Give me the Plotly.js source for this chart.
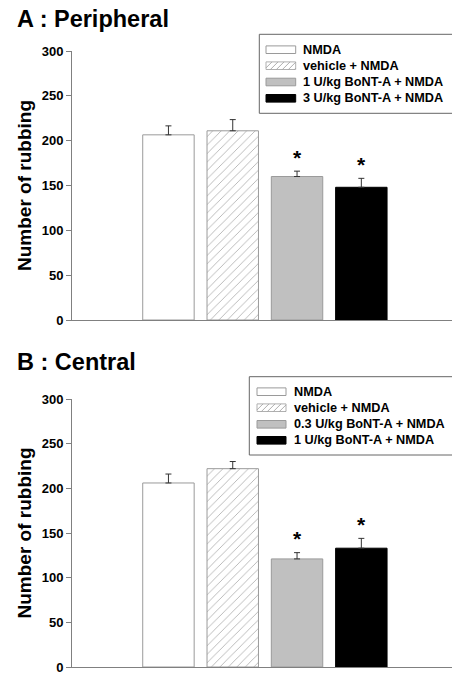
<!DOCTYPE html>
<html>
<head>
<meta charset="utf-8">
<script src="https://cdn.plot.ly/plotly-3.0.1.min.js"></script>
<style>html,body{margin:0;padding:0;background:#fff;}#chart{width:452px;height:675px;}</style>
</head>
<body>
<div id="chart"></div>
<script>
// ---- data ----
const positions = [0, 1, 2, 3];
const groupsA = ['NMDA', 'vehicle + NMDA', '1 U/kg BoNT-A + NMDA', '3 U/kg BoNT-A + NMDA'];
const meansA = [206.5, 211, 160, 148];
const semA = [10, 12.5, 6, 10];
const sigA = [false, false, true, true];
const groupsB = ['NMDA', 'vehicle + NMDA', '0.3 U/kg BoNT-A + NMDA', '1 U/kg BoNT-A + NMDA'];
const meansB = [206, 222, 121, 133];
const semB = [10, 8, 7, 11];
const sigB = [false, false, true, true];
const noLowerErr = [0, 0, 0, 0];
const yTicks = [0, 50, 100, 150, 200, 250, 300];
const panelTitles = ['A : Peripheral', 'B : Central'];

// ---- styles ----
const W = 452, H = 675, L = 72;
const px = x => (x - L) / (W - L);
const py = y => 1 - y / H;
const FONT = 'Liberation Sans, Arial, sans-serif';
const fills = ['#ffffff', '#ffffff', '#c0c0c0', '#000000'];
const edges = ['#9a9a9a', '#9a9a9a', '#9a9a9a', '#000000'];
const patterns = ['', '/', '', ''];

function barTrace(means, sem, xa, ya) {
  return {
    type: 'bar', x: positions, y: means, width: 0.8, xaxis: xa, yaxis: ya,
    marker: {
      color: fills,
      line: {color: edges, width: 1},
      pattern: {shape: patterns, fgcolor: '#8a8a8a', size: 6, solidity: 0.12, fillmode: 'overlay'}
    },
    error_y: {type: 'data', symmetric: false, array: sem, arrayminus: noLowerErr,
              color: '#333333', thickness: 1, width: 3},
    showlegend: false, hoverinfo: 'skip'
  };
}

const data = [barTrace(meansA, semA, 'x', 'y'), barTrace(meansB, semB, 'x2', 'y2')];

function yAxis(domain, anchor) {
  return {
    domain: domain, anchor: anchor, range: [0, 300], tickvals: yTicks,
    ticks: 'outside', ticklen: 5, tickwidth: 1, tickcolor: '#808080',
    showline: true, linecolor: '#808080', linewidth: 1,
    showgrid: false, zeroline: false, ticklabeloverflow: 'allow',
    tickfont: {family: FONT, size: 13, color: '#000', weight: 'bold'},
    title: {text: 'Number of rubbing', standoff: 5,
            font: {family: FONT, size: 19, color: '#000', weight: 'bold'}},
    fixedrange: true
  };
}
function xAxis(anchor) {
  return {
    anchor: anchor, domain: [0, 1], range: [-1.5, 4.41],
    showline: true, linecolor: '#808080', linewidth: 1,
    showticklabels: false, ticks: '', showgrid: false, zeroline: false, fixedrange: true
  };
}

const annotations = [];
const shapes = [];

// significance asterisks
[[meansA, semA, sigA, 'x', 'y'], [meansB, semB, sigB, 'x2', 'y2']].forEach(([m, s, g, xa, ya]) => {
  positions.forEach((p, i) => {
    if (g[i]) annotations.push({
      x: p, y: m[i] + s[i], xref: xa, yref: ya, text: '*', showarrow: false,
      yanchor: 'middle', yshift: 14,
      font: {family: FONT, size: 21, color: '#000', weight: 'bold'}
    });
  });
});

// panel titles
[[panelTitles[0], 15, 19], [panelTitles[1], 15, 361.5]].forEach(([t, x, y]) => {
  annotations.push({
    text: t, xref: 'paper', yref: 'paper', x: px(x), y: py(y), xanchor: 'left', yanchor: 'middle',
    showarrow: false, font: {family: FONT, size: 23.5, color: '#000', weight: 'bold'}
  });
});

// legends
function legend(names, boxL, boxT, boxB, swL, swR, textX, rows) {
  shapes.push({type: 'rect', xref: 'paper', yref: 'paper', x0: px(boxL), x1: px(460),
               y0: py(boxB), y1: py(boxT), line: {color: '#666666', width: 1}, fillcolor: 'rgba(0,0,0,0)'});
  names.forEach((n, i) => {
    const yc = rows[i], y0 = yc - 3.8, y1 = yc + 3.8;
    shapes.push({type: 'rect', xref: 'paper', yref: 'paper', x0: px(swL), x1: px(swR),
                 y0: py(y1), y1: py(y0), fillcolor: fills[i],
                 line: {color: i === 1 ? '#b0b0b0' : edges[i], width: 1}});
    if (patterns[i] === '/') {
      const h = y1 - y0;
      let d = '';
      for (let t = swL - h; t < swR; t += 6) {
        let xa = t, ya = y1, xb = t + h, yb = y0;
        if (xa < swL) { ya = y1 - (swL - xa); xa = swL; }
        if (xb > swR) { yb = y0 + (xb - swR); xb = swR; }
        if (xb <= xa) continue;
        d += 'M' + px(xa) + ',' + py(ya) + 'L' + px(xb) + ',' + py(yb);
      }
      shapes.push({type: 'path', xref: 'paper', yref: 'paper', path: d, line: {color: '#9a9a9a', width: 0.8}});
    }
    annotations.push({
      text: n, xref: 'paper', yref: 'paper', x: px(textX), y: py(yc), xanchor: 'left', yanchor: 'middle',
      showarrow: false, font: {family: FONT, size: 12.7, color: '#000', weight: 'bold'}
    });
  });
}
legend(groupsA, 259.3, 34.3, 113.3, 266, 295.7, 301, [49.7, 65.7, 82, 98.3]);
legend(groupsB, 249.3, 376.7, 455, 257, 286, 291.5, [391.7, 407.7, 424.3, 440.3]);

const layout = {
  width: W, height: H, margin: {l: L, r: 0, t: 0, b: 0},
  paper_bgcolor: '#fff', plot_bgcolor: '#fff',
  xaxis: xAxis('y'), yaxis: yAxis([py(320), py(51)], 'x'),
  xaxis2: xAxis('y2'), yaxis2: yAxis([py(667), py(399)], 'x2'),
  annotations: annotations, shapes: shapes, showlegend: false, bargap: 0
};

Plotly.newPlot('chart', data, layout, {displayModeBar: false, staticPlot: true});
</script>
</body>
</html>
